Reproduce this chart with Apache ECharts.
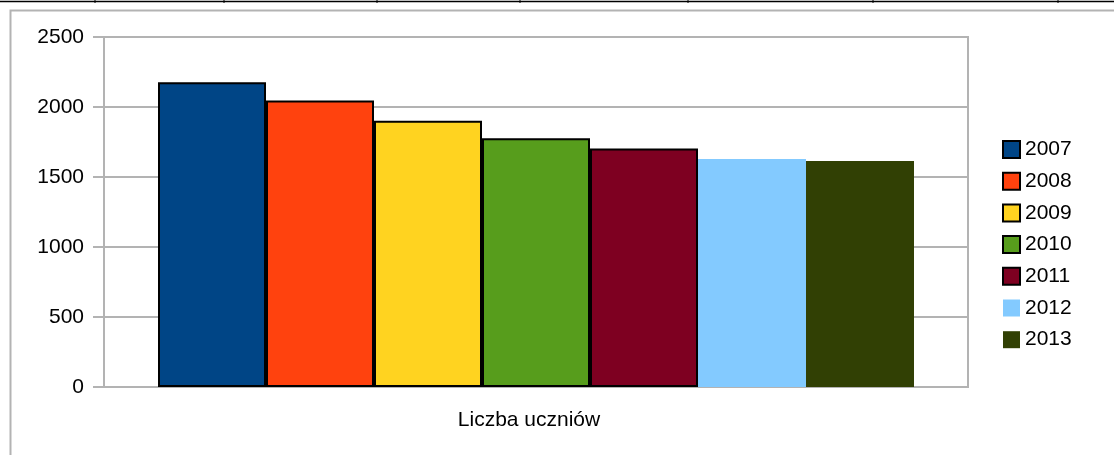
<!DOCTYPE html>
<html>
<head>
<meta charset="utf-8">
<title>Liczba uczniów</title>
<script src="https://cdn.jsdelivr.net/npm/echarts@6/dist/echarts.min.js"></script>
<style>
    html, body { margin: 0; padding: 0; background: #fff; }
    #column_show { width: 1114px; height: 455px; }
</style>
</head>
<body>
<div id="column_show"></div>
<script>
// dane wykresu
var categories = ['Liczba uczniów'];
var years = ['2007', '2008', '2009', '2010', '2011', '2012', '2013'];
var values = [2176, 2046, 1901, 1776, 1704, 1628, 1614];
var yTicks = [0, 500, 1000, 1500, 2000, 2500];

// kolory (paleta LibreOffice)
var palette = ['#004586', '#ff420e', '#ffd320', '#579d1c', '#7e0021', '#83caff', '#314004'];
var outlined = 5; // pierwsze 5 słupków ma czarną ramkę

var myChart = echarts.init(document.getElementById('column_show'));

var series = [];
for (var i = 0; i < years.length; i++) {
    series.push({
        name: years[i],
        type: 'bar',
        barGap: '0%',
        barCategoryGap: '12.5%',
        itemStyle: {
            color: palette[i],
            borderColor: i < outlined ? '#000' : palette[i],
            borderWidth: i < outlined ? 2 : 0
        },
        data: [values[i]]
    });
}

// linie arkusza nad wykresem
var colMarks = [95, 224, 377, 520, 688, 873, 1058];
var graphics = [
    { type: 'line', shape: { x1: 0, y1: 1.5, x2: 1114, y2: 1.5 }, style: { stroke: '#000', lineWidth: 1.5 } },
    { type: 'polyline', shape: { points: [[10.5, 455], [10.5, 10.5], [1114, 10.5]] }, style: { stroke: '#b3b3b3', lineWidth: 2, fill: null } }
];
for (var k = 0; k < colMarks.length; k++) {
    graphics.push({ type: 'line', shape: { x1: colMarks[k], y1: 0, x2: colMarks[k], y2: 3 }, style: { stroke: '#000', lineWidth: 1 } });
}

var option = {
    animation: false,
    textStyle: { fontFamily: 'Liberation Sans', color: '#000' },
    graphic: graphics,
    grid: {
        left: 104,
        top: 37,
        right: 146,
        bottom: 68,
        show: true,
        borderColor: '#b3b3b3',
        borderWidth: 2
    },
    legend: {
        orient: 'vertical',
        left: 997,
        top: 134,
        itemWidth: 17,
        itemHeight: 17,
        itemGap: 10.7,
        icon: 'rect',
        textStyle: { fontSize: 21, color: '#000', fontFamily: 'Liberation Sans' },
        data: years
    },
    xAxis: {
        type: 'category',
        data: categories,
        axisLine: { lineStyle: { color: '#b3b3b3', width: 2 } },
        axisTick: { length: 10, lineStyle: { color: '#b3b3b3', width: 2 } },
        axisLabel: { fontSize: 21, color: '#000', margin: 23, padding: [0, 14, 0, 0] }
    },
    yAxis: {
        type: 'value',
        min: yTicks[0],
        max: yTicks[yTicks.length - 1],
        interval: yTicks[1] - yTicks[0],
        axisLine: { show: true, lineStyle: { color: '#b3b3b3', width: 2 } },
        axisTick: { show: true, length: 11, lineStyle: { color: '#b3b3b3', width: 2 } },
        axisLabel: {
            fontSize: 21,
            color: '#000',
            margin: 20,
            formatter: function (v) { return String(v); }
        },
        splitLine: { lineStyle: { color: '#b3b3b3', width: 2 } }
    },
    series: series
};

myChart.setOption(option);
</script>
</body>
</html>
